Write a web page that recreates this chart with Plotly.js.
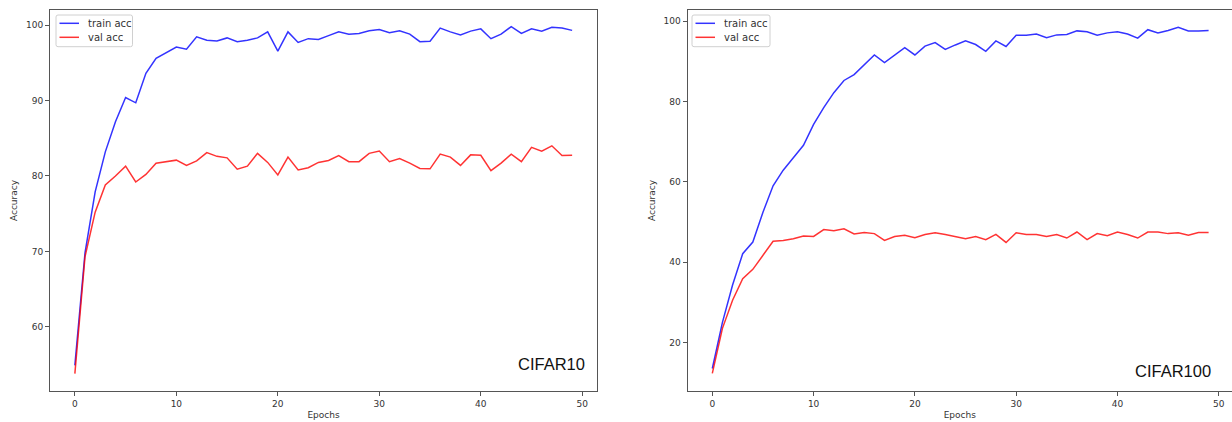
<!DOCTYPE html>
<html>
<head>
<meta charset="utf-8">
<script src="https://cdn.plot.ly/plotly-3.0.1.min.js"></script>
<style>
  html, body { margin: 0; padding: 0; background: #ffffff; overflow: hidden; }
  #chart { width: 1232px; height: 422px; }
</style>
</head>
<body>
<div id="chart"></div>
<script>
// ---- data ----
const epochs = Array.from({length: 50}, (_, i) => i);

const cifar10Train = [54.9, 69.8, 77.9, 83.2, 87.2, 90.4, 89.7, 93.6, 95.6, 96.3,
  97.1, 96.8, 98.45, 98.0, 97.9, 98.3, 97.8, 98.0, 98.3, 99.1,
  96.55, 99.1, 97.7, 98.2, 98.1, 98.6, 99.1, 98.8, 98.9, 99.25,
  99.4, 99.0, 99.25, 98.8, 97.8, 97.85, 99.6, 99.1, 98.7, 99.2,
  99.5, 98.2, 98.8, 99.8, 98.9, 99.5, 99.2, 99.7, 99.6, 99.3];

const cifar10Val = [53.8, 69.3, 75.2, 78.8, 80.0, 81.3, 79.2, 80.2, 81.7, 81.9,
  82.1, 81.4, 82.0, 83.1, 82.6, 82.4, 80.9, 81.3, 83.0, 81.8,
  80.15, 82.5, 80.8, 81.1, 81.8, 82.05, 82.7, 81.9, 81.9, 83.0,
  83.3, 81.9, 82.3, 81.7, 81.0, 80.95, 82.9, 82.5, 81.4, 82.8,
  82.75, 80.7, 81.7, 82.9, 81.9, 83.8, 83.3, 84.0, 82.7, 82.75];

const cifar100Train = [13.5, 25.0, 34.3, 42.1, 45.0, 52.4, 59.0, 62.9, 66.0, 69.1,
  74.3, 78.5, 82.2, 85.25, 86.7, 89.2, 91.6, 89.7, 91.5, 93.4,
  91.6, 93.8, 94.7, 93.0, 94.1, 95.1, 94.2, 92.5, 95.1, 93.7,
  96.5, 96.5, 96.8, 95.9, 96.6, 96.7, 97.6, 97.4, 96.5, 97.1,
  97.4, 96.8, 95.8, 97.9, 97.1, 97.7, 98.5, 97.6, 97.6, 97.7];

const cifar100Val = [12.3, 23.5, 30.5, 35.9, 38.2, 41.7, 45.2, 45.4, 45.8, 46.5,
  46.4, 48.1, 47.8, 48.3, 47.0, 47.4, 47.1, 45.4, 46.4, 46.7,
  46.1, 46.9, 47.3, 46.9, 46.4, 45.8, 46.4, 45.6, 46.9, 44.9,
  47.3, 46.9, 46.9, 46.4, 46.9, 46.0, 47.5, 45.6, 47.1, 46.6,
  47.5, 46.9, 46.0, 47.5, 47.5, 47.1, 47.3, 46.7, 47.4, 47.4];

const seriesNames = ['train acc', 'val acc'];
const panelLabels = ['CIFAR10', 'CIFAR100'];
const xTitle = 'Epochs';
const yTitle = 'Accuracy';
const xTicks = [0, 10, 20, 30, 40, 50];
const yTicksLeft = [60, 70, 80, 90, 100];
const yTicksRight = [20, 40, 60, 80, 100];

// ---- styles ----
const BLUE = 'rgba(0,0,255,0.8)';
const RED = 'rgba(255,0,0,0.8)';
const COLORS = [BLUE, RED];
const SPINE = '#555555';
const TXT = '#333333';
const FONT = 'DejaVu Sans, sans-serif';
const W = 1232, H = 422;

function line(x, y, name, color, xa, ya) {
  return {
    x: x, y: y, name: name, type: 'scatter', mode: 'lines',
    line: {color: color, width: 1.5},
    xaxis: xa, yaxis: ya, showlegend: false
  };
}

const traces = [
  line(epochs, cifar10Train, seriesNames[0], BLUE, 'x', 'y'),
  line(epochs, cifar10Val, seriesNames[1], RED, 'x', 'y'),
  line(epochs, cifar100Train, seriesNames[0], BLUE, 'x2', 'y2'),
  line(epochs, cifar100Val, seriesNames[1], RED, 'x2', 'y2')
];

function xaxisCfg(domain, range, anchor) {
  return {
    domain: domain, range: range, anchor: anchor,
    tickvals: xTicks, ticks: 'outside', ticklen: 4, tickwidth: 1, tickcolor: SPINE,
    showline: true, linecolor: SPINE, linewidth: 1, mirror: true,
    showgrid: false, zeroline: false,
    tickfont: {family: FONT, size: 9, color: TXT},
    title: {text: xTitle, font: {family: FONT, size: 9, color: TXT}, standoff: 3},
    automargin: false
  };
}
function yaxisCfg(domain, range, ticks, anchor, mirror) {
  return {
    domain: domain, range: range, anchor: anchor,
    tickvals: ticks, ticks: 'outside', ticklen: 4, tickwidth: 1, tickcolor: SPINE,
    showline: true, linecolor: SPINE, linewidth: 1, mirror: mirror,
    showgrid: false, zeroline: false,
    tickfont: {family: FONT, size: 9, color: TXT},
    title: {text: yTitle, font: {family: FONT, size: 9, color: TXT}, standoff: 6},
    automargin: false
  };
}

const yDom = [(H - 391) / H, (H - 10) / H];

// custom legend (paper pixel helpers)
const px = v => v / W;
const py = v => (H - v) / H;
const shapes = [];
const annotations = [];
function addLegend(x0, x1, y0, y1) {
  const r = 2;
  shapes.push({
    type: 'path', xref: 'paper', yref: 'paper',
    path: `M ${px(x0 + r)} ${py(y0)} L ${px(x1 - r)} ${py(y0)} Q ${px(x1)} ${py(y0)} ${px(x1)} ${py(y0 + r)} ` +
          `L ${px(x1)} ${py(y1 - r)} Q ${px(x1)} ${py(y1)} ${px(x1 - r)} ${py(y1)} ` +
          `L ${px(x0 + r)} ${py(y1)} Q ${px(x0)} ${py(y1)} ${px(x0)} ${py(y1 - r)} ` +
          `L ${px(x0)} ${py(y0 + r)} Q ${px(x0)} ${py(y0)} ${px(x0 + r)} ${py(y0)} Z`,
    line: {color: '#d0d0d0', width: 1}, fillcolor: 'rgba(255,255,255,0.8)', layer: 'above'
  });
  seriesNames.forEach((nm, i) => {
    const yy = 23.3 + i * 14;
    shapes.push({type: 'line', xref: 'paper', yref: 'paper',
      x0: px(x0 + 3.5), x1: px(x0 + 23), y0: py(yy), y1: py(yy),
      line: {color: COLORS[i], width: 1.5}, layer: 'above'});
    annotations.push({text: nm, xref: 'paper', yref: 'paper', x: px(x0 + 30), y: py(yy),
      xanchor: 'left', yanchor: 'middle', showarrow: false,
      font: {family: FONT, size: 10, color: TXT}});
  });
}
addLegend(56, 132.5, 15, 46.7);
addLegend(692, 770, 15, 46.7);

annotations.push(
  {text: panelLabels[0], xref: 'x domain', yref: 'y domain', x: 0.982, y: 0.071,
   xanchor: 'right', yanchor: 'middle', showarrow: false,
   font: {family: 'Liberation Sans, Arial, sans-serif', size: 16.5, color: '#111111'}},
  {text: panelLabels[1], xref: 'x2 domain', yref: 'y2 domain', x: 0.965, y: 0.053,
   xanchor: 'right', yanchor: 'middle', showarrow: false,
   font: {family: 'Liberation Sans, Arial, sans-serif', size: 16.5, color: '#111111'}}
);

const layout = {
  width: W, height: H,
  margin: {l: 0, r: 0, t: 0, b: 0},
  paper_bgcolor: '#ffffff', plot_bgcolor: '#ffffff',
  showlegend: false,
  xaxis: xaxisCfg([50 / W, 597 / W], [-2.45, 51.45], 'y'),
  yaxis: yaxisCfg(yDom, [51.5, 102.0], yTicksLeft, 'x', true),
  xaxis2: xaxisCfg([687.5 / W, 1], [-2.45, 51.31], 'y2'),
  yaxis2: yaxisCfg(yDom, [7.9, 102.8], yTicksRight, 'x2', false),
  shapes: shapes,
  annotations: annotations
};

Plotly.newPlot('chart', traces, layout, {staticPlot: true, displayModeBar: false});
</script>
</body>
</html>
